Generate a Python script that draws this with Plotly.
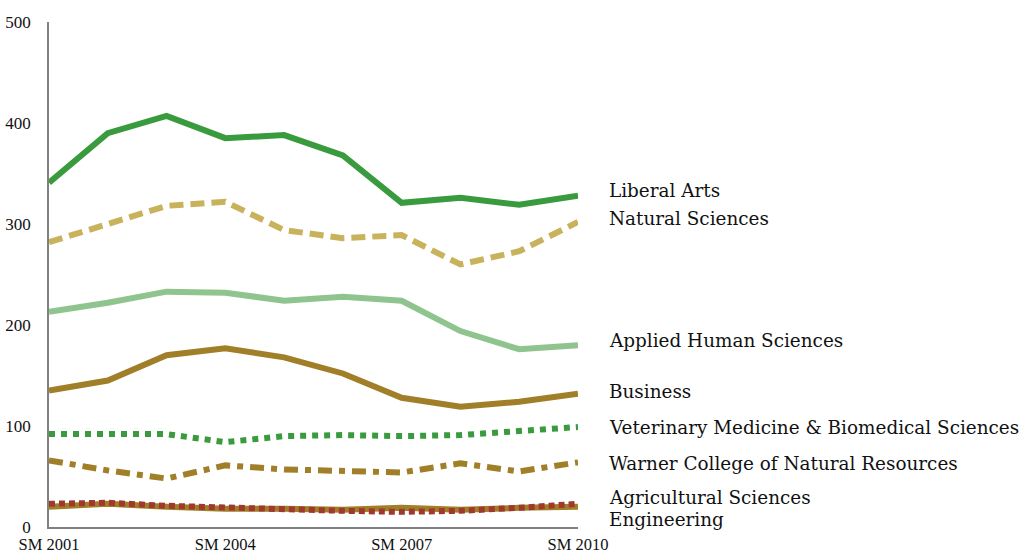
import plotly.graph_objects as go

years = [2001, 2002, 2003, 2004, 2005, 2006, 2007, 2008, 2009, 2010]
tick_years = [2001, 2004, 2007, 2010]
tick_labels = ["SM 2001", "SM 2004", "SM 2007", "SM 2010"]

liberal_arts = [341, 390, 407, 385, 388, 368, 321, 326, 319, 328]
natural_sciences = [282, 300, 318, 322, 294, 286, 289, 260, 273, 302]
applied_human = [213, 222, 233, 232, 224, 228, 224, 194, 176, 180]
business = [135, 145, 170, 177, 168, 152, 128, 119, 124, 132]
vet_med = [92, 92, 92, 84, 90, 91, 90, 91, 95, 99]
warner = [66, 56, 48, 61, 57, 55, 54, 63, 55, 64]
agricultural = [23, 24, 21, 19, 18, 16, 15, 16, 19, 23]
engineering = [20, 23, 20, 18, 18, 17, 19, 17, 19, 20]

names = ["Liberal Arts", "Natural Sciences", "Applied Human Sciences", "Business",
         "Veterinary Medicine & Biomedical Sciences", "Warner College of Natural Resources",
         "Agricultural Sciences", "Engineering"]
series = [liberal_arts, natural_sciences, applied_human, business,
          vet_med, warner, agricultural, engineering]
colors = ["#3a9a3e", "#c9b25c", "#8fc48f", "#a07f28",
          "#3a9a3e", "#a07f28", "#a0382e", "#a07f28"]
dashes = ["solid", "14px,7px", "solid", "solid",
          "6px,6px", "14px,7px,6px,7px", "6px,4px", "solid"]
label_y = [333, 305, 185, 134, 99, 63, 29, 7]

fig = go.Figure()
# draw engineering beneath agricultural
order = [0, 1, 2, 3, 4, 5, 7, 6]
for i in order:
    fig.add_trace(go.Scatter(
        x=years, y=series[i], mode="lines", name=names[i],
        line=dict(color=colors[i], width=6, dash=dashes[i]),
        showlegend=False, hoverinfo="skip"))

for i, n in enumerate(names):
    fig.add_annotation(x=2010, y=label_y[i], xref="x", yref="y", text=n,
                       showarrow=False, xanchor="left", yanchor="middle",
                       xshift=29, font=dict(family="DejaVu Serif", size=18.4, color="#111"))

fig.update_layout(
    width=1022, height=554, autosize=False,
    margin=dict(l=49, r=444, t=22, b=27),
    plot_bgcolor="white", paper_bgcolor="white",
    font=dict(family="Liberation Serif", size=17, color="#111"),
)
fig.update_xaxes(range=[2001, 2010], tickvals=tick_years, ticktext=tick_labels,
                 showgrid=False, zeroline=False, showline=True, linecolor="#808080",
                 linewidth=1.5, ticks="", automargin=False, ticklabelstandoff=1,
                 tickfont=dict(family="Liberation Serif", size=16.5))
fig.update_yaxes(range=[0, 500], tickvals=[0, 100, 200, 300, 400, 500],
                 showgrid=False, zeroline=False, showline=True, linecolor="#808080",
                 linewidth=1.5, ticks="", ticklabelstandoff=13, automargin=False,
                 tickfont=dict(family="Liberation Serif", size=17))
fig.update_traces(cliponaxis=False)

fig.write_html("out.html", config={"displayModeBar": False},
               post_script="document.body.style.margin='0';document.body.style.overflow='hidden';")
